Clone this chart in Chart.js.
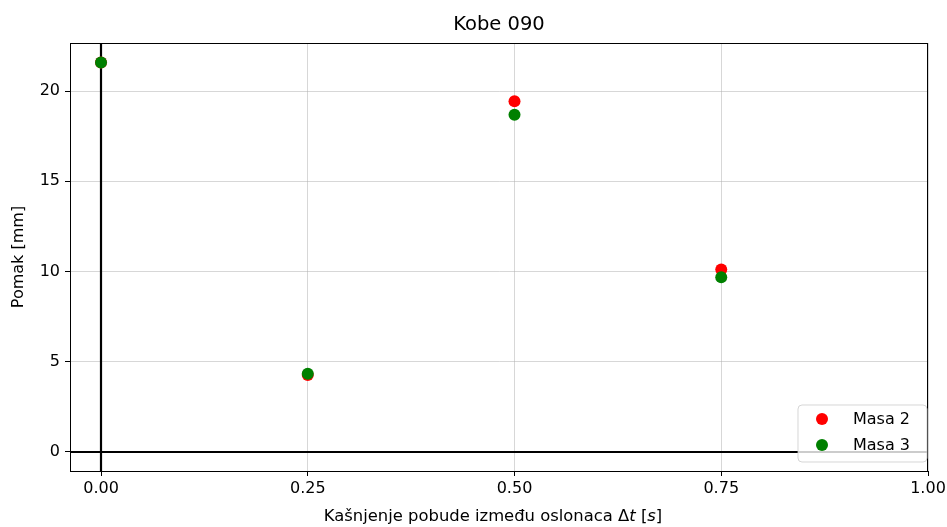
<!DOCTYPE html>
<html>
<head>
<meta charset="utf-8">
<script src="https://cdn.jsdelivr.net/npm/chart.js@4/dist/chart.umd.min.js"></script>
<style>
html,body{margin:0;padding:0;background:#fff;}
canvas{display:block;}
</style>
</head>
<body>
<canvas id="c" width="947" height="527"></canvas>
<script>
const titleText = "Kobe 090";
const xValues = [0, 0.25, 0.5, 0.75];
const masa2 = [21.6, 4.25, 19.45, 10.1];
const masa3 = [21.6, 4.32, 18.7, 9.67];
const seriesNames = ["Masa 2", "Masa 3"];
const xTicks = [0, 0.25, 0.5, 0.75, 1.0];
const yTicks = [0, 5, 10, 15, 20];
const xLabelParts = [["Kašnjenje pobude između oslonaca Δ", false], ["t", true], [" [", false], ["s", true], ["]", false]];
const yLabel = "Pomak [mm]";

const FONT = "'DejaVu Sans', sans-serif";

const overlay = {
  id: 'overlay',
  beforeDatasetsDraw(chart) {
    const {ctx, chartArea: a, scales: {x, y}} = chart;
    ctx.save();
    ctx.strokeStyle = '#000';
    ctx.lineWidth = 2.2;
    const y0 = Math.round(y.getPixelForValue(0));
    const x0 = Math.round(x.getPixelForValue(0));
    ctx.beginPath();
    ctx.moveTo(a.left, y0); ctx.lineTo(a.right, y0);
    ctx.moveTo(x0, a.top); ctx.lineTo(x0, a.bottom);
    ctx.stroke();
    ctx.restore();
  },
  afterDraw(chart) {
    const {ctx, chartArea: a} = chart;
    ctx.save();
    // frame
    ctx.strokeStyle = '#000';
    ctx.lineWidth = 1;
    ctx.strokeRect(Math.round(a.left) + 0.5, Math.round(a.top) + 0.5, Math.round(a.right - a.left) - 1, Math.round(a.bottom - a.top));
    // title
    ctx.fillStyle = '#000';
    ctx.font = "19.5px " + FONT;
    ctx.textAlign = 'center';
    ctx.textBaseline = 'middle';
    ctx.fillText(titleText, (a.left + a.right) / 2, 25);
    // y label
    ctx.save();
    ctx.translate(19, (a.top + a.bottom) / 2);
    ctx.rotate(-Math.PI / 2);
    ctx.font = "16px " + FONT;
    ctx.fillText(yLabel, 0, 0);
    ctx.restore();
    // x label with italic parts
    const fs = "16.4px ";
    let total = 0;
    const widths = xLabelParts.map(([t, it]) => {
      ctx.font = (it ? "italic " : "") + fs + FONT;
      const w = ctx.measureText(t).width; total += w; return w;
    });
    let cx = (a.left + a.right) / 2 - 6 - total / 2;
    ctx.textAlign = 'left';
    xLabelParts.forEach(([t, it], i) => {
      ctx.font = (it ? "italic " : "") + fs + FONT;
      ctx.fillText(t, cx, 517);
      cx += widths[i];
    });
    // legend
    const bx = 798, by = 405, bw = 129, bh = 57, r = 4;
    ctx.beginPath();
    ctx.moveTo(bx + r, by);
    ctx.arcTo(bx + bw, by, bx + bw, by + bh, r);
    ctx.arcTo(bx + bw, by + bh, bx, by + bh, r);
    ctx.arcTo(bx, by + bh, bx, by, r);
    ctx.arcTo(bx, by, bx + bw, by, r);
    ctx.closePath();
    ctx.fillStyle = 'rgba(255,255,255,0.8)';
    ctx.fill();
    ctx.strokeStyle = 'rgba(204,204,204,0.8)';
    ctx.lineWidth = 1;
    ctx.stroke();
    const colors = ['#ff0000', '#008000'];
    const rows = [419, 445];
    ctx.font = "16px " + FONT;
    ctx.textBaseline = 'middle';
    seriesNames.forEach((n, i) => {
      ctx.fillStyle = colors[i];
      ctx.beginPath();
      ctx.arc(822, rows[i], 6, 0, Math.PI * 2);
      ctx.fill();
      ctx.fillStyle = '#000';
      ctx.fillText(n, 853, rows[i] + 1);
    });
    ctx.restore();
  }
};

new Chart(document.getElementById('c'), {
  type: 'scatter',
  data: {
    datasets: [
      {label: seriesNames[0], data: xValues.map((v, i) => ({x: v, y: masa2[i]})), backgroundColor: '#ff0000', borderColor: '#ff0000', pointRadius: 6, pointHoverRadius: 6, borderWidth: 0, order: 2},
      {label: seriesNames[1], data: xValues.map((v, i) => ({x: v, y: masa3[i]})), backgroundColor: '#008000', borderColor: '#008000', pointRadius: 6, pointHoverRadius: 6, borderWidth: 0, order: 1}
    ]
  },
  options: {
    responsive: false,
    animation: false,
    devicePixelRatio: 1,
    layout: {padding: {left: 0, right: 19, top: 43, bottom: 0}},
    plugins: {legend: {display: false}, tooltip: {enabled: false}, title: {display: false}},
    scales: {
      x: {
        type: 'linear', min: -0.0375, max: 1.0,
        afterBuildTicks(s) { s.ticks = xTicks.map(v => ({value: v})); },
        afterFit(s) { s.height = 56; s.paddingLeft = 0; s.paddingRight = 0; },
        ticks: {color: '#000', font: {family: FONT, size: 16}, padding: 3, maxRotation: 0, callback: v => v.toFixed(2)},
        grid: {color: 'rgba(176,176,176,0.5)', tickColor: '#000', tickLength: 5, lineWidth: 1},
        border: {color: '#000', width: 1}
      },
      y: {
        type: 'linear', min: -1.08, max: 22.68,
        afterBuildTicks(s) { s.ticks = yTicks.map(v => ({value: v})); },
        afterFit(s) { s.width = 70; s.paddingTop = 0; s.paddingBottom = 0; },
        ticks: {color: '#000', font: {family: FONT, size: 16}, padding: 5, callback: v => String(v)},
        grid: {color: 'rgba(176,176,176,0.5)', tickColor: '#000', tickLength: 5, lineWidth: 1},
        border: {color: '#000', width: 1}
      }
    }
  },
  plugins: [overlay]
});
</script>
</body>
</html>
